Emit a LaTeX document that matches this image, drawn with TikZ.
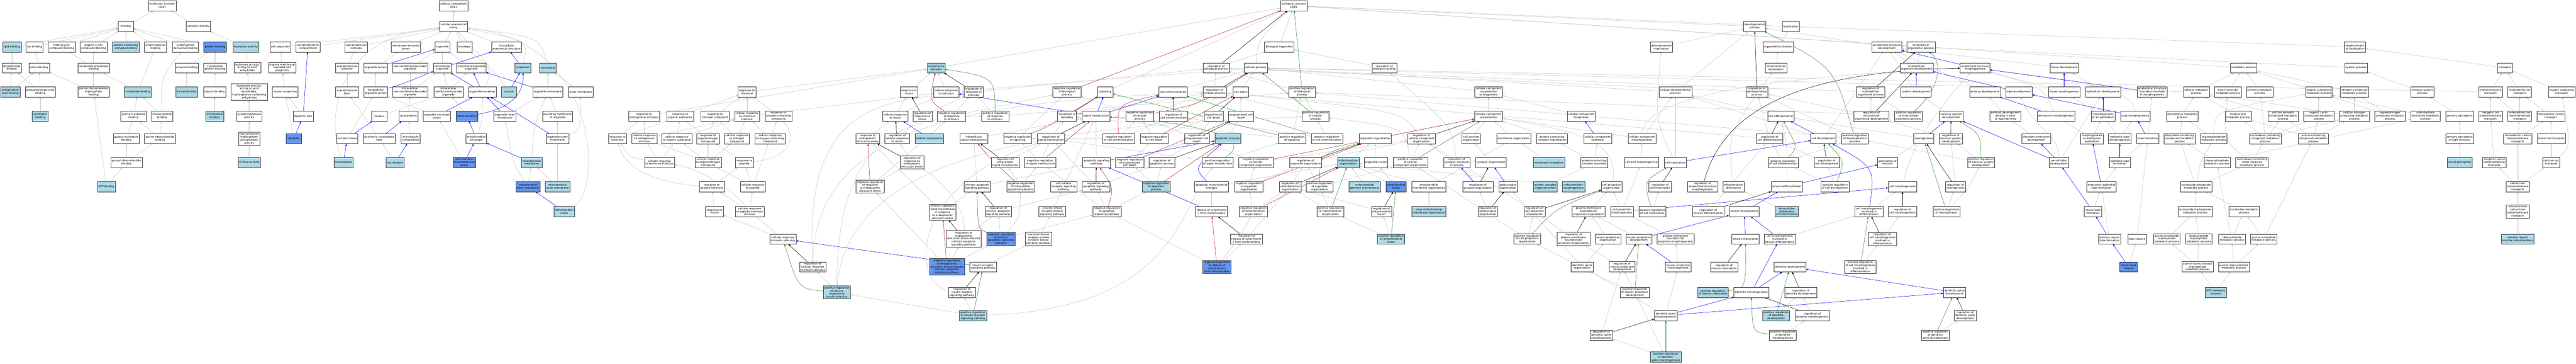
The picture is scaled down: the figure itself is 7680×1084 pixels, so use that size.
\documentclass[tikz,border=0pt]{standalone}
\usepackage{fontspec}
\setmainfont{DejaVu Sans}
\usetikzlibrary{arrows.meta,shadows}
\definecolor{lightblue}{HTML}{ADD8E6}
\definecolor{cornflower}{HTML}{6495ED}
\definecolor{edgegrey}{HTML}{C4C4C4}
\definecolor{firebrick}{HTML}{B22222}
\definecolor{forestgreen}{HTML}{228B22}
\pgfdeclarelayer{back}
\pgfdeclarelayer{edges}
\pgfsetlayers{back,edges,main}
\tikzset{
  term/.style={draw=black!80, line width=0.7pt, fill=white, align=center,
    font=\fontsize{8}{9}\selectfont, inner xsep=3pt, inner ysep=2.5pt,
    minimum width=45pt, minimum height=30pt,
    drop shadow={shadow xshift=1pt, shadow yshift=-1pt, fill=black!45}},
  hit/.style={term, fill=lightblue},
  direct/.style={term, fill=cornflower},
  isa/.style={draw=edgegrey, line width=0.8pt, -{Triangle[length=6pt,width=5pt]}},
  partof/.style={isa, draw=blue},
  reg/.style={isa, draw=black},
  negreg/.style={isa, draw=firebrick},
  posreg/.style={isa, draw=forestgreen}
}
\begin{document}
\begin{tikzpicture}[x=1pt,y=-1pt]
\useasboundingbox (0,0) rectangle (7680,1084);
\begin{pgfonlayer}{back}
\fill[white] (0,0) rectangle (7680,1084);
\end{pgfonlayer}

\node[term] (mf) at (484,17) {molecular\_function\\Opa1};
\node[term] (binding) at (375,79) {binding};
\node[term] (catalytic) at (591,79) {catalytic activity};
\node[hit] (lipidb) at (35,140) {lipid binding};
\node[term] (ionb) at (103,140) {ion binding};
\node[term] (hetcb) at (184,140) {heterocyclic\\compound binding};
\node[term] (orgcb) at (279,140) {organic cyclic\\compound binding};
\node[hit] (pccb) at (375,140) {protein-containing\\complex binding};
\node[term] (smb) at (464,140) {small molecule\\binding};
\node[term] (carbdb) at (553,140) {carbohydrate\\derivative binding};
\node[direct] (proteinb) at (641,140) {protein binding};
\node[hit] (hydrolase) at (733,140) {hydrolase activity};
\node[term] (phospholipidb) at (35,202) {phospholipid\\binding};
\node[term] (anionb) at (117,202) {anion binding};
\node[term] (nucphosb) at (279,202) {nucleoside phosphate\\binding};
\node[term] (enzymeb) at (557,202) {enzyme binding};
\node[term] (cytoskprotb) at (641,202) {cytoskeletal\\protein binding};
\node[term] (hydroanhyd) at (737,202) {hydrolase activity,\\acting on acid\\anhydrides};
\node[hit] (phosacidb) at (31,274) {phosphatidic\\acid binding};
\node[term] (pgb) at (120,274) {phosphatidylglycerol\\binding};
\node[term] (purtpb) at (279,274) {purine ribonucleoside\\triphosphate\\binding};
\node[hit] (nucleotideb) at (411,274) {nucleotide binding};
\node[hit] (kinaseb) at (557,274) {kinase binding};
\node[term] (tubulinb) at (640,274) {tubulin binding};
\node[term] (hydrophos) at (743,274) {hydrolase activity,\\acting on acid\\anhydrides,\\in phosphorus-containing\\anhydrides};
\node[hit] (cardiolipinb) at (120,346) {cardiolipin\\binding};
\node[term] (purnb) at (398,346) {purine nucleotide\\binding};
\node[term] (ribonb) at (483,346) {ribonucleotide\\binding};
\node[hit] (mtb) at (640,346) {microtubule\\binding};
\node[term] (pyrophos) at (743,346) {pyrophosphatase\\activity};
\node[term] (guanylnb) at (377,413) {guanyl nucleotide\\binding};
\node[term] (purribonb) at (477,413) {purine ribonucleotide\\binding};
\node[term] (rntpase) at (743,413) {ribonucleoside\\triphosphate\\phosphatase\\activity};
\node[term] (guanylribonb) at (377,484) {guanyl ribonucleotide\\binding};
\node[hit] (gtpase) at (743,484) {GTPase activity};
\node[hit] (gtpb) at (317,556) {GTP binding};

\node[term] (cc) at (1352,17) {cellular\_component\\Opa1};
\node[term] (cae) at (1352,79) {cellular anatomical\\entity};
\node[term] (cellproj) at (836,140) {cell projection};
\node[term] (somatodend) at (918,140) {somatodendritic\\compartment};
\node[term] (supramolcomplex) at (1062,140) {supramolecular\\complex};
\node[term] (memenclumen) at (1210,140) {membrane-enclosed\\lumen};
\node[term] (organelle) at (1319,140) {organelle};
\node[term] (envelope) at (1385,140) {envelope};
\node[term] (intraanat) at (1510,140) {intracellular\\anatomical structure};
\node[term] (pmbcp) at (841,202) {plasma membrane\\bounded cell\\projection};
\node[term] (supramolpoly) at (1035,202) {supramolecular\\polymer};
\node[term] (organellelumen) at (1120,202) {organelle lumen};
\node[term] (nonmembo) at (1223,202) {non-membrane-bounded\\organelle};
\node[term] (intraorg) at (1319,202) {intracellular\\organelle};
\node[term] (membo) at (1405,202) {membrane-bounded\\organelle};
\node[hit] (cytoplasm) at (1558,202) {cytoplasm};
\node[hit] (membrane) at (1633,202) {membrane};
\node[term] (neuronproj) at (850,274) {neuron projection};
\node[term] (supramolfiber) at (1035,274) {supramolecular\\fiber};
\node[term] (intraorglumen) at (1120,274) {intracellular\\organelle lumen};
\node[term] (intranonmembo) at (1223,274) {intracellular\\non-membrane-bounded\\organelle};
\node[term] (intramembo) at (1337,274) {intracellular\\membrane-bounded\\organelle};
\node[term] (orgenv) at (1438,274) {organelle envelope};
\node[hit] (cytosol) at (1517,274) {cytosol};
\node[term] (orgmem) at (1633,274) {organelle membrane};
\node[term] (outermem) at (1731,274) {outer membrane};
\node[term] (dendtree) at (904,346) {dendritic tree};
\node[term] (nucleus) at (1131,346) {nucleus};
\node[term] (cytoskeleton) at (1217,346) {cytoskeleton};
\node[term] (orgenvlumen) at (1302,346) {organelle envelope\\lumen};
\node[direct] (mitochondrion) at (1392,346) {mitochondrion};
\node[term] (orginnermem) at (1505,346) {organelle inner\\membrane};
\node[term] (boundmem) at (1662,346) {bounding membrane\\of organelle};
\node[direct] (dendrite) at (876,413) {dendrite};
\node[term] (nuclumen) at (1035,413) {nuclear lumen};
\node[term] (polycytofiber) at (1131,413) {polymeric cytoskeletal\\fiber};
\node[term] (mtcytosk) at (1224,413) {microtubule\\cytoskeleton};
\node[term] (mitoenv) at (1420,413) {mitochondrial\\envelope};
\node[term] (orgoutermem) at (1662,413) {organelle outer\\membrane};
\node[hit] (nucleoplasm) at (1024,484) {nucleoplasm};
\node[hit] (microtubule) at (1178,484) {microtubule};
\node[direct] (mitoims) at (1384,484) {mitochondrial\\intermembrane\\space};
\node[hit] (mitomem) at (1585,484) {mitochondrial\\membrane};
\node[direct] (mitoinnermem) at (1574,556) {mitochondrial\\inner membrane};
\node[hit] (mitooutermem) at (1662,556) {mitochondrial\\outer membrane};
\node[hit] (crista) at (1682,630) {mitochondrial\\crista};

\node[term] (bp) at (3857,17) {biological\_process\\Opa1};
\node[term] (devproc) at (5231,79) {developmental\\process};
\node[term] (localization) at (5339,79) {localization};
\node[term] (bioreg) at (3814,140) {biological regulation};
\node[term] (devmaturation) at (4953,140) {developmental\\maturation};
\node[term] (orgloc) at (5302,140) {organelle localization};
\node[term] (asd) at (5625,140) {anatomical structure\\development};
\node[term] (mop) at (5727,140) {multicellular\\organismal process};
\node[term] (estloc) at (7021,140) {establishment\\of localization};
\node[hit] (respstim) at (2791,202) {response to\\stimulus};
\node[term] (regbio) at (3626,202) {regulation of\\biological process};
\node[term] (cellproc) at (3744,202) {cellular process};
\node[term] (regbioqual) at (4127,202) {regulation of\\biological quality};
\node[term] (mitoloc) at (5295,202) {mitochondrion\\localization};
\node[term] (mod) at (5714,202) {multicellular\\organism development};
\node[term] (asm) at (5888,202) {anatomical structure\\morphogenesis};
\node[term] (tissuedev) at (6154,202) {tissue development};
\node[term] (metproc) at (6689,202) {metabolic process};
\node[term] (sysproc) at (7024,202) {system process};
\node[term] (transport) at (7468,202) {transport};

\node[term] (respchem) at (2227,274) {response to\\chemical};
\node[term] (respstress) at (2710,274) {response to\\stress};
\node[term] (cellrespstim) at (2821,274) {cellular response\\to stimulus};
\node[term] (regrespstim) at (2903,274) {regulation of\\response to\\stimulus};
\node[term] (negregbio) at (3181,274) {negative regulation\\of biological\\process};
\node[term] (signaling) at (3295,274) {signaling};
\node[term] (cellcomm) at (3497,274) {cell communication};
\node[term] (regcellproc) at (3621,274) {regulation of\\cellular process};
\node[term] (celldeath) at (3699,274) {cell death};
\node[term] (posregbio) at (3882,274) {positive regulation\\of biological\\process};
\node[term] (cellcomporgbio) at (4438,274) {cellular component\\organization\\or biogenesis};
\node[term] (celldevproc) at (4995,274) {cellular developmental\\process};
\node[term] (regdevproc) at (5238,274) {regulation of\\developmental\\process};
\node[term] (regmop) at (5577,274) {regulation of\\multicellular\\organismal process};
\node[term] (sysdev) at (5712,274) {system development};
\node[term] (embryodev) at (5918,274) {embryo development};
\node[term] (tubedev) at (6019,274) {tube development};
\node[term] (tissuemorph) at (6154,274) {tissue morphogenesis};
\node[term] (epidev) at (6270,274) {epithelium development};
\node[term] (asfim) at (6416,274) {anatomical structure\\formation involved\\in morphogenesis};
\node[term] (cellmet) at (6548,274) {cellular metabolic\\process};
\node[term] (smallmolmet) at (6642,274) {small molecule\\metabolic process};
\node[term] (primmet) at (6737,274) {primary metabolic\\process};
\node[term] (orgsubmet) at (6913,274) {organic substance\\metabolic process};
\node[term] (nitromet) at (7019,274) {nitrogen compound\\metabolic process};
\node[term] (nssproc) at (7222,274) {nervous system\\process};
\node[term] (tmtransport) at (7425,274) {transmembrane\\transport};
\node[term] (monoiontransport) at (7512,274) {monoatomic ion\\transport};
\node[term] (orgsubtransport) at (7637,274) {organic substance\\transport};

\node[term] (respendo) at (1920,346) {response to\\endogenous stimulus};
\node[term] (resporgsub) at (2028,346) {response to\\organic substance};
\node[term] (respnitro) at (2132,346) {response to\\nitrogen compound};
\node[term] (cellrespchem) at (2227,346) {cellular response\\to chemical\\stimulus};
\node[term] (respoxy) at (2321,346) {response to\\oxygen-containing\\compound};
\node[term] (cellrespstress) at (2669,346) {cellular response\\to stress};
\node[term] (regrespstress) at (2750,346) {regulation of\\response to\\stress};
\node[term] (negregrespstim) at (2837,346) {negative regulation\\of response\\to stimulus};
\node[term] (posregrespstim) at (2967,346) {positive regulation\\of response\\to stimulus};
\node[term] (regsignaling) at (3181,346) {regulation of\\signaling};
\node[term] (sigtrans) at (3267,346) {signal transduction};
\node[term] (negregcellproc) at (3398,346) {negative regulation\\of cellular\\process};
\node[term] (regcellcomm) at (3499,346) {regulation of\\cell communication};
\node[term] (regcelldeath) at (3618,346) {regulation of\\cell death};
\node[term] (pcd) at (3700,346) {programmed cell\\death};
\node[term] (posregcellproc) at (3922,346) {positive regulation\\of cellular\\process};
\node[term] (cellcomporg) at (4438,346) {cellular component\\organization};
\node[term] (cellcompbiogen) at (4714,346) {cellular component\\biogenesis};
\node[term] (celldiff) at (5309,346) {cell differentiation};
\node[term] (regmod) at (5579,346) {regulation of\\multicellular\\organismal development};
\node[term] (posregmop) at (5690,346) {positive regulation\\of multicellular\\organismal process};
\node[term] (nsdev) at (5817,346) {nervous system\\development};
\node[term] (embryodevbirth) at (5979,346) {embryo development\\ending in birth\\or egg hatching};
\node[term] (embryomorph) at (6130,346) {embryonic morphogenesis};
\node[term] (morphepi) at (6270,346) {morphogenesis\\of an epithelium};
\node[term] (tubemorph) at (6366,346) {tube morphogenesis};
\node[term] (phosmet) at (6506,346) {phosphorus metabolic\\process};
\node[term] (heterocyclemet) at (6673,346) {heterocycle\\metabolic process};
\node[term] (cellaromatic) at (6807,346) {cellular aromatic\\compound metabolic\\process};
\node[term] (orgcyclicmet) at (6913,346) {organic cyclic\\compound metabolic\\process};
\node[term] (cellnitromet) at (7019,346) {cellular nitrogen\\compound metabolic\\process};
\node[term] (orgnitromet) at (7125,346) {organonitrogen\\compound metabolic\\process};
\node[term] (carbderivmet) at (7231,346) {carbohydrate\\derivative metabolic\\process};
\node[term] (sensoryperc) at (7333,346) {sensory perception};
\node[term] (inorgiontm) at (7425,346) {inorganic ion\\transmembrane\\transport};
\node[term] (monoiontm) at (7512,346) {monoatomic ion\\transmembrane\\transport};
\node[term] (monocationtransport) at (7605,346) {monoatomic cation\\transport};

\node[term] (resphormone) at (1841,413) {response to\\hormone};
\node[term] (cellrespendo) at (1921,413) {cellular response\\to endogenous\\stimulus};
\node[term] (cellresporgsub) at (2018,413) {cellular response\\to organic substance};
\node[term] (resporgnitro) at (2111,413) {response to\\organonitrogen\\compound};
\node[term] (cellrespnitro) at (2197,413) {cellular response\\to nitrogen\\compound};
\node[term] (cellrespoxy) at (2296,413) {cellular response\\to oxygen-containing\\compound};
\node[term] (respER) at (2587,413) {response to\\endoplasmic\\reticulum stress};
\node[term] (regcellrespstress) at (2675,413) {regulation of\\cellular response\\to stress};
\node[hit] (cellsenescence) at (2771,413) {cellular senescence};
\node[term] (intrasig) at (2903,413) {intracellular\\signal transduction};
\node[term] (negregsignaling) at (3034,413) {negative regulation\\of signaling};
\node[term] (regsigtrans) at (3133,413) {regulation of\\signal transduction};
\node[term] (negregcellcomm) at (3335,413) {negative regulation\\of cell communication};
\node[term] (negregcelldeath) at (3441,413) {negative regulation\\of cell death};
\node[term] (regpcd) at (3568,413) {regulation of\\programmed cell\\death};
\node[hit] (apoptotic) at (3660,413) {apoptotic process};
\node[term] (posregsignaling) at (3852,413) {positive regulation\\of signaling};
\node[term] (posregcellcomm) at (3956,413) {positive regulation\\of cell communication};
\node[term] (orgorg) at (4100,413) {organelle organization};
\node[term] (regcellcomporg) at (4238,413) {regulation of\\cellular component\\organization};
\node[term] (celljunction) at (4386,413) {cell junction\\organization};
\node[term] (membraneorg) at (4513,413) {membrane organization};
\node[term] (pccorg) at (4627,413) {protein-containing\\complex organization};
\node[term] (cellcompassembly) at (4763,413) {cellular component\\assembly};
\node[term] (cellcompmorph) at (4895,413) {cellular component\\morphogenesis};
\node[term] (regcelldiff) at (5276,413) {regulation of\\cell differentiation};
\node[term] (celldev) at (5436,413) {cell development};
\node[term] (posregdevproc) at (5530,413) {positive regulation\\of developmental\\process};
\node[term] (neurogenesis) at (5735,413) {neurogenesis};
\node[term] (regnsdev) at (5816,413) {regulation of\\nervous system\\development};
\node[term] (chordate) at (6071,413) {chordate embryonic\\development};
\node[term] (morphembepi) at (6237,413) {morphogenesis\\of embryonic\\epithelium};
\node[term] (epitubemorph) at (6320,413) {epithelial tube\\morphogenesis};
\node[term] (tubeformation) at (6403,413) {tube formation};
\node[term] (phoscontmet) at (6498,413) {phosphate-containing\\compound metabolic\\process};
\node[term] (organophosmet) at (6600,413) {organophosphate\\metabolic process};
\node[term] (nucleobasemet) at (6754,413) {nucleobase-containing\\compound metabolic\\process};
\node[term] (purinecontmet) at (6897,413) {purine-containing\\compound metabolic\\process};
\node[term] (sensorylight) at (7333,413) {sensory perception\\of light stimulus};
\node[term] (monocationtm) at (7506,413) {monoatomic cation\\transmembrane\\transport};
\node[term] (metaliontransport) at (7606,413) {metal ion transport};

\node[term] (cellresphormone) at (1966,484) {cellular response\\to hormone stimulus};
\node[term] (cellresporgnitro) at (2111,484) {cellular response\\to organonitrogen\\compound};
\node[term] (resppeptide) at (2219,484) {response to\\peptide};
\node[term] (regrespER) at (2719,484) {regulation of\\response to\\endoplasmic\\reticulum stress};
\node[term] (regintrasig) at (2997,484) {regulation of\\intracellular\\signal transduction};
\node[term] (negregsigtrans) at (3101,484) {negative regulation\\of signal transduction};
\node[term] (apopsigpath) at (3269,484) {apoptotic signaling\\pathway};
\node[term] (negregpcd) at (3368,484) {negative regulation\\of programmed\\cell death};
\node[term] (regapop) at (3464,484) {regulation of\\apoptotic process};
\node[term] (posregsigtrans) at (3630,484) {positive regulation\\of signal transduction};
\node[term] (negregcellcomporg) at (3744,484) {negative regulation\\of cellular\\component organization};
\node[term] (regorgorg) at (3892,484) {regulation of\\organelle organization};
\node[hit] (mitoorg) at (4020,484) {mitochondrion\\organization};
\node[term] (orgfusion) at (4102,484) {organelle fusion};
\node[term] (posregcellcomporg) at (4205,484) {positive regulation\\of cellular\\component organization};
\node[term] (regsynapse) at (4343,484) {regulation of\\synapse structure\\or activity};
\node[term] (synapseorg) at (4445,484) {synapse organization};
\node[hit] (membranetubulation) at (4618,484) {membrane tubulation};
\node[term] (pccassembly) at (4753,484) {protein-containing\\complex assembly};
\node[term] (cellpartmorph) at (4894,484) {cell part morphogenesis};
\node[term] (cellmaturation) at (4995,484) {cell maturation};
\node[term] (posregcelldiff) at (5316,484) {positive regulation\\of cell differentiation};
\node[term] (regcelldev) at (5446,484) {regulation of\\cell development};
\node[term] (genneurons) at (5627,484) {generation of\\neurons};
\node[term] (posregnsdev) at (5906,484) {positive regulation\\of nervous system\\development};
\node[term] (neuraltubedev) at (6138,484) {neural tube\\development};
\node[term] (epitubeformation) at (6320,484) {epithelial tube\\formation};
\node[term] (ribosephosmet) at (6610,484) {ribose phosphate\\metabolic process};
\node[term] (nucleobasesmallmet) at (6714,484) {nucleobase-containing\\small molecule\\metabolic process};
\node[hit] (visualperc) at (7333,484) {visual perception};
\node[term] (inorgcationtm) at (7436,484) {inorganic cation\\transmembrane\\transport};
\node[term] (calciumiontransport) at (7606,484) {calcium ion\\transport};

\node[term] (resppeptidehorm) at (2122,556) {response to\\peptide hormone};
\node[term] (cellresppeptide) at (2244,556) {cellular response\\to peptide};
\node[term] (negregrespER) at (2594,556) {negative regulation\\of response\\to endoplasmic\\reticulum stress};
\node[term] (intrinsicapop) at (2913,556) {intrinsic apoptotic\\signaling pathway};
\node[term] (negregintrasig) at (3043,556) {negative regulation\\of intracellular\\signal transduction};
\node[term] (cellsurfrec) at (3171,556) {cell surface\\receptor signaling\\pathway};
\node[term] (regapopsig) at (3267,556) {regulation of\\apoptotic signaling\\pathway};
\node[hit] (negregapop) at (3447,556) {negative regulation\\of apoptotic\\process};
\node[term] (apopmito) at (3612,556) {apoptotic mitochondrial\\changes};
\node[term] (negregorgorg) at (3723,556) {negative regulation\\of organelle\\organization};
\node[term] (regmitoorg) at (3846,556) {regulation of\\mitochondrion\\organization};
\node[term] (posregorgorg) at (3934,556) {positive regulation\\of organelle\\organization};
\node[hit] (mitogenome) at (4069,556) {mitochondrial\\genome maintenance};
\node[direct] (mitofusion) at (4162,556) {mitochondrial\\fusion};
\node[term] (mitomemorg) at (4260,556) {mitochondrial\\membrane organization};
\node[term] (regsynorg) at (4406,556) {regulation of\\synapse organization};
\node[term] (postsynorg) at (4496,556) {postsynapse\\organization};
\node[hit] (pcoligo) at (4607,556) {protein complex\\oligomerization};
\node[hit] (mitomorph) at (4691,556) {mitochondrion\\morphogenesis};
\node[term] (cellprojorg) at (4805,556) {cell projection\\organization};
\node[term] (regcellmat) at (4949,556) {regulation of\\cell maturation};
\node[term] (regasm) at (5076,556) {regulation of\\anatomical structure\\morphogenesis};
\node[term] (mitodist) at (5168,556) {mitochondrion\\distribution};
\node[term] (neurondiff) at (5327,556) {neuron differentiation};
\node[term] (posregcelldev) at (5471,556) {positive regulation\\of cell development};
\node[term] (cellmorph) at (5672,556) {cell morphogenesis};
\node[term] (regneurogenesis) at (5830,556) {regulation of\\neurogenesis};
\node[term] (embepitubeform) at (6265,556) {embryonic epithelial\\tube formation};
\node[term] (nucphosmet) at (6547,556) {nucleoside phosphate\\metabolic process};
\node[term] (calciumtm) at (7506,556) {calcium ion\\transmembrane\\transport};

\node[term] (respinsulin) at (2130,630) {response to\\insulin};
\node[term] (cellresppeptidehorm) at (2235,630) {cellular response\\to peptide hormone\\stimulus};
\node[term] (intrinsicER) at (2810,632) {intrinsic apoptotic\\signaling pathway\\in response\\to endoplasmic\\reticulum stress};
\node[term] (regintrinsic) at (2976,630) {regulation of\\intrinsic apoptotic\\signaling pathway};
\node[term] (enzlinked) at (3137,630) {enzyme-linked\\receptor protein\\signaling pathway};
\node[term] (negregapopsig) at (3300,630) {negative regulation\\of apoptotic\\signaling pathway};
\node[term] (releasecytc) at (3612,630) {release of cytochrome\\c from mitochondria};
\node[term] (negregmitoorg) at (3737,630) {negative regulation\\of mitochondrion\\organization};
\node[term] (posregmitoorg) at (3966,630) {positive regulation\\of mitochondrion\\organization};
\node[term] (regmitofusion) at (4119,630) {regulation of\\mitochondrial\\fusion};
\node[hit] (innermitomemorg) at (4260,630) {inner mitochondrial\\membrane organization};
\node[term] (regpostsyn) at (4436,630) {regulation of\\postsynapse\\organization};
\node[term] (regcellprojorg) at (4575,630) {regulation of\\cell projection\\organization};
\node[term] (pmbcporg) at (4736,630) {plasma membrane\\bounded cell\\projection organization};
\node[term] (cellprojmorph) at (4835,630) {cell projection\\morphogenesis};
\node[term] (posregcellmat) at (4926,630) {positive regulation\\of cell maturation};
\node[term] (regneurondiff) at (5093,630) {regulation of\\neuron differentiation};
\node[term] (neurondev) at (5200,630) {neuron development};
\node[hit] (intradistmito) at (5327,630) {intracellular\\distribution\\of mitochondria};
\node[term] (cellmorphdiff) at (5572,630) {cell morphogenesis\\involved in\\differentiation};
\node[term] (regcellmorph) at (5672,630) {regulation of\\cell morphogenesis};
\node[term] (posregneurogenesis) at (5803,630) {positive regulation\\of neurogenesis};
\node[term] (neuraltubeform) at (6240,630) {neural tube\\formation};
\node[term] (nuctpmet) at (6545,630) {nucleoside triphosphate\\metabolic process};
\node[term] (nucleotidemet) at (6690,630) {nucleotide metabolic\\process};
\node[term] (mitocalciumtm) at (7506,630) {mitochondrial\\calcium ion\\transmembrane\\transport};

\node[term] (cellrespinsulin) at (2334,712) {cellular response\\to insulin stimulus};
\node[term] (regERintrinsic) at (2873,712) {regulation of\\endoplasmic\\reticulum stress-induced\\intrinsic apoptotic\\signaling pathway};
\node[direct] (negregintrinsic) at (2984,712) {negative regulation\\of intrinsic\\apoptotic signaling\\pathway};
\node[term] (transmemRTK) at (3096,712) {transmembrane\\receptor protein\\tyrosine kinase\\signaling pathway};
\node[term] (regreleasecytc) at (3716,712) {regulation of\\release of cytochrome\\c from mitochondria};
\node[hit] (posregmitofusion) at (4147,712) {positive regulation\\of mitochondrial\\fusion};
\node[term] (posregcellprojorg) at (4553,712) {positive regulation\\of cell projection\\organization};
\node[term] (regpmbcporg) at (4691,712) {regulation of\\plasma membrane\\bounded cell\\projection organization};
\node[term] (neuronprojorg) at (4794,712) {neuron projection\\organization};
\node[term] (neuronprojdev) at (4886,712) {neuron projection\\development};
\node[term] (pmbcpmorph) at (4995,712) {plasma membrane\\bounded cell\\projection morphogenesis};
\node[term] (neuronmat) at (5204,712) {neuron maturation};
\node[term] (cellmorphneurondiff) at (5306,712) {cell morphogenesis\\involved in\\neuron differentiation};
\node[term] (regcellmorphdiff) at (5612,712) {regulation of\\cell morphogenesis\\involved in\\differentiation};
\node[term] (primneuraltube) at (6289,712) {primary neural\\tube formation};
\node[term] (tubeclosure) at (6371,712) {tube closure};
\node[term] (purinentpmet) at (6460,712) {purine nucleoside\\triphosphate\\metabolic process};
\node[term] (ribontpmet) at (6555,712) {ribonucleoside\\triphosphate\\metabolic process};
\node[term] (ribonucmet) at (6654,712) {ribonucleotide\\metabolic process};
\node[term] (purinenucmet) at (6749,712) {purine nucleotide\\metabolic process};
\node[hit] (calciumimport) at (7506,712) {calcium import\\into the mitochondrion};

\node[term] (regcellrespinsulin) at (2423,795) {regulation of\\cellular response\\to insulin stimulus};
\node[direct] (negregERintrinsic) at (2823,795) {negative regulation\\of endoplasmic\\reticulum stress-induced\\intrinsic apoptotic\\signaling pathway};
\node[term] (insrsp) at (2931,795) {insulin receptor\\signaling pathway};
\node[direct] (negregreleasecytc) at (3628,795) {negative regulation\\of release of\\cytochrome c\\from mitochondria};
\node[term] (dendspineorg) at (4717,795) {dendritic spine\\organization};
\node[term] (regneuronprojdev) at (4836,795) {regulation of\\neuron projection\\development};
\node[term] (neuronprojmorph) at (5003,795) {neuron projection\\morphogenesis};
\node[term] (regneuronmat) at (5140,795) {regulation of\\neuron maturation};
\node[term] (dendritedev) at (5337,795) {dendrite development};
\node[term] (posregcellmorphdiff) at (5546,795) {positive regulation\\of cell morphogenesis\\involved in\\differentiation};
\node[direct] (neuraltubeclosure) at (6346,795) {neural tube\\closure};
\node[term] (purineribontpmet) at (6552,795) {purine ribonucleoside\\triphosphate\\metabolic process};
\node[term] (purineribonucmet) at (6660,795) {purine ribonucleotide\\metabolic process};

\node[hit] (posregcellrespinsulin) at (2495,871) {positive regulation\\of cellular\\response to\\insulin stimulus};
\node[term] (reginsr) at (2868,871) {regulation of\\insulin receptor\\signaling pathway};
\node[term] (posregneuronprojdev) at (4874,871) {positive regulation\\of neuron projection\\development};
\node[hit] (posregneuronmat) at (5107,871) {positive regulation\\of neuron maturation};
\node[term] (dendritemorph) at (5221,871) {dendrite morphogenesis};
\node[term] (regdendritedev) at (5369,871) {regulation of\\dendrite development};
\node[term] (dendspinedev) at (5827,871) {dendritic spine\\development};
\node[hit] (gtpmet) at (6606,871) {GTP metabolic\\process};

\node[hit] (posreginsr) at (2901,940) {positive regulation\\of insulin receptor\\signaling pathway};
\node[term] (dendspinemorph) at (4966,940) {dendritic spine\\morphogenesis};
\node[hit] (posregdendritedev) at (5295,940) {positive regulation\\of dendrite\\development};
\node[term] (regdendritemorph) at (5403,940) {regulation of\\dendrite morphogenesis};
\node[term] (regdendspinedev) at (5859,940) {regulation of\\dendritic spine\\development};
\node[term] (regdendspinemorph) at (4774,999) {regulation of\\dendritic spine\\morphogenesis};
\node[term] (posregdendritemorph) at (5315,999) {positive regulation\\of dendrite\\morphogenesis};
\node[term] (posregdendspinedev) at (5770,999) {positive regulation\\of dendritic\\spine development};
\node[hit] (posregdendspinemorph) at (4966,1064) {positive regulation\\of dendritic\\spine morphogenesis};

\begin{pgfonlayer}{edges}
\draw[isa] (binding) -- (mf); \draw[isa] (catalytic) -- (mf);
\draw[isa] (lipidb) -- (binding); \draw[isa] (ionb) -- (binding);
\draw[isa] (hetcb) -- (binding); \draw[isa] (orgcb) -- (binding);
\draw[isa] (pccb) -- (binding); \draw[isa] (smb) -- (binding);
\draw[isa] (carbdb) -- (binding); \draw[isa] (proteinb) -- (binding);
\draw[isa] (hydrolase) -- (catalytic); \draw[isa] (phospholipidb) -- (lipidb);
\draw[isa] (anionb) -- (ionb); \draw[isa] (nucphosb) -- (hetcb);
\draw[isa] (nucphosb) -- (orgcb); \draw[isa] (enzymeb) -- (proteinb);
\draw[isa] (cytoskprotb) -- (proteinb); \draw[isa] (hydroanhyd) -- (hydrolase);
\draw[isa] (phosacidb) -- (phospholipidb); \draw[isa] (phosacidb) -- (anionb);
\draw[isa] (pgb) -- (phospholipidb); \draw[isa] (pgb) -- (anionb);
\draw[isa] (purtpb) -- (anionb); \draw[isa] (purtpb) -- (nucphosb);
\draw[isa] (nucleotideb) -- (nucphosb); \draw[isa] (nucleotideb) -- (smb);
\draw[isa] (kinaseb) -- (enzymeb); \draw[isa] (tubulinb) -- (cytoskprotb);
\draw[isa] (hydrophos) -- (hydroanhyd); \draw[isa] (cardiolipinb) -- (pgb);
\draw[isa] (purnb) -- (nucleotideb); \draw[isa] (ribonb) -- (nucleotideb);
\draw[isa] (ribonb) .. controls (480,230) .. (carbdb); \draw[isa] (mtb) -- (tubulinb);
\draw[isa] (pyrophos) -- (hydrophos); \draw[isa] (guanylnb) -- (purnb);
\draw[isa] (purribonb) -- (purnb); \draw[isa] (purribonb) -- (ribonb);
\draw[isa] (rntpase) -- (pyrophos); \draw[isa] (guanylribonb) -- (guanylnb);
\draw[isa] (guanylribonb) -- (purribonb); \draw[isa] (gtpase) -- (rntpase);
\draw[isa] (gtpb) -- (purtpb); \draw[isa] (gtpb) -- (guanylribonb);

\draw[isa] (cae) -- (cc); \draw[isa] (cellproj) -- (cae);
\draw[isa] (somatodend) -- (cae); \draw[isa] (supramolcomplex) -- (cae);
\draw[isa] (memenclumen) -- (cae); \draw[isa] (organelle) -- (cae);
\draw[isa] (envelope) -- (cae); \draw[isa] (intraanat) -- (cae);
\draw[isa] (cytoplasm) .. controls (1575,120) .. (cae);
\draw[isa] (membrane) .. controls (1610,110) .. (cae);
\draw[isa] (cytosol) .. controls (1480,220) .. (cae);
\draw[isa] (crista) .. controls (1795,570) and (1790,120) .. (cae);
\draw[isa] (nucleoplasm) .. controls (978,380) and (978,110) .. (cae);
\draw[isa] (pmbcp) -- (cellproj); \draw[isa] (neuronproj) -- (pmbcp);
\draw[isa] (dendtree) -- (neuronproj); \draw[isa] (dendrite) -- (neuronproj);
\draw[isa] (supramolpoly) -- (supramolcomplex); \draw[isa] (supramolfiber) -- (supramolpoly);
\draw[isa] (organellelumen) -- (memenclumen); \draw[isa] (nonmembo) -- (organelle);
\draw[isa] (intraorglumen) -- (organellelumen); \draw[isa] (intranonmembo) -- (nonmembo);
\draw[isa] (intranonmembo) -- (intraorg); \draw[isa] (nucleus) -- (intramembo);
\draw[isa] (cytoskeleton) -- (intranonmembo); \draw[isa] (orgenvlumen) -- (intraorglumen);
\draw[isa] (nuclumen) -- (intraorglumen); \draw[isa] (polycytofiber) -- (supramolfiber);
\draw[isa] (mtcytosk) -- (cytoskeleton); \draw[isa] (microtubule) -- (polycytofiber);
\draw[isa] (intraorg) -- (organelle); \draw[isa] (membo) -- (organelle);
\draw[isa] (intramembo) -- (intraorg); \draw[isa] (intramembo) -- (membo);
\draw[isa] (orgenv) .. controls (1470,210) .. (envelope); \draw[isa] (orgmem) -- (membrane);
\draw[isa] (outermem) -- (membrane); \draw[isa] (mitochondrion) -- (intramembo);
\draw[isa] (orginnermem) -- (orgmem); \draw[isa] (boundmem) -- (orgmem);
\draw[isa] (mitoenv) .. controls (1440,350) .. (orgenv); \draw[isa] (orgoutermem) -- (boundmem);
\draw[isa] (orgoutermem) .. controls (1730,390) .. (outermem); \draw[isa] (mitoims) -- (orgenvlumen);
\draw[isa] (mitomem) .. controls (1590,380) .. (orgmem); \draw[isa] (mitoinnermem) -- (mitomem);
\draw[isa] (mitoinnermem) .. controls (1530,490) .. (orginnermem); \draw[isa] (mitooutermem) -- (mitomem);
\draw[isa] (mitooutermem) -- (orgoutermem);
\draw[partof] (dendtree) -- (somatodend); \draw[partof] (dendrite) -- (dendtree);
\draw[partof] (organellelumen) -- (organelle); \draw[partof] (intraorglumen) .. controls (1200,250) .. (intraorg);
\draw[partof] (nuclumen) -- (nucleus); \draw[partof] (polycytofiber) -- (cytoskeleton);
\draw[partof] (nucleoplasm) -- (nuclumen); \draw[partof] (microtubule) -- (mtcytosk);
\draw[partof] (intraorg) -- (intraanat); \draw[partof] (cytoplasm) -- (intraanat);
\draw[partof] (orgenv) -- (intraorg); \draw[partof] (orgenv) -- (membo);
\draw[partof] (cytosol) -- (cytoplasm); \draw[partof] (orgmem) -- (membo);
\draw[partof] (orgenvlumen) -- (orgenv); \draw[partof] (mitochondrion) .. controls (1545,320) and (1562,260) .. (cytoplasm);
\draw[partof] (orginnermem) -- (orgenv); \draw[partof] (mitoenv) -- (mitochondrion);
\draw[partof] (orgoutermem) -- (orgenv); \draw[partof] (mitoims) -- (mitoenv);
\draw[partof] (mitomem) -- (mitoenv); \draw[partof] (crista) -- (mitoinnermem);

\draw[isa] (respstim) -- (bp); \draw[isa] (respendo) -- (respstim);
\draw[isa] (respchem) -- (respstim); \draw[isa] (resporgsub) -- (respchem);
\draw[isa] (respnitro) -- (respchem); \draw[isa] (cellrespchem) -- (respchem);
\draw[isa] (respoxy) -- (respchem); \draw[isa] (cellrespchem) -- (cellrespstim);
\draw[isa] (resphormone) -- (respendo); \draw[isa] (resphormone) -- (resporgsub);
\draw[isa] (cellrespendo) -- (respendo); \draw[isa] (cellrespendo) -- (cellrespchem);
\draw[isa] (cellresporgsub) -- (resporgsub); \draw[isa] (cellresporgsub) -- (cellrespchem);
\draw[isa] (resporgnitro) -- (respnitro); \draw[isa] (resporgnitro) -- (resporgsub);
\draw[isa] (cellrespnitro) -- (respnitro); \draw[isa] (cellrespnitro) -- (cellrespchem);
\draw[isa] (cellrespoxy) -- (cellrespchem); \draw[isa] (cellrespoxy) -- (respoxy);
\draw[isa] (cellresphormone) -- (cellrespendo); \draw[isa] (cellresphormone) -- (cellresporgsub);
\draw[isa] (cellresphormone) .. controls (1880,470) .. (resphormone);
\draw[isa] (cellresporgnitro) -- (cellresporgsub); \draw[isa] (cellresporgnitro) -- (resporgnitro);
\draw[isa] (cellresporgnitro) -- (cellrespnitro); \draw[isa] (cellresporgnitro) -- (cellrespendo);
\draw[isa] (resppeptide) -- (resporgnitro); \draw[isa] (resppeptide) .. controls (2370,470) and (2370,400) .. (respoxy);
\draw[isa] (resppeptidehorm) -- (resppeptide); \draw[isa] (resppeptidehorm) .. controls (1950,545) and (1860,500) .. (resphormone);
\draw[isa] (cellresppeptide) -- (resppeptide); \draw[isa] (cellresppeptide) -- (cellresporgnitro);
\draw[isa] (cellresppeptide) -- (cellrespoxy); \draw[isa] (respinsulin) -- (resppeptidehorm);
\draw[isa] (cellresppeptidehorm) -- (resppeptidehorm); \draw[isa] (cellresppeptidehorm) -- (cellresppeptide);
\draw[isa] (cellresppeptidehorm) .. controls (2180,560) and (2080,500) .. (cellresphormone);
\draw[isa] (cellrespinsulin) -- (respinsulin); \draw[isa] (cellrespinsulin) -- (cellresppeptidehorm);
\draw[isa] (posregcellrespinsulin) -- (regcellrespinsulin);
\draw[isa] (regcellrespinsulin) .. controls (2400,330) and (2600,300) .. (regrespstim);
\draw[isa] (regcellrespinsulin) .. controls (2432,340) and (3000,300) .. (regcellproc);
\draw[isa] (posregcellrespinsulin) .. controls (2495,400) and (2700,350) .. (posregrespstim);
\draw[isa] (posregcellrespinsulin) .. controls (2528,390) and (3400,370) .. (posregcellproc);
\draw[isa] (respstress) -- (respstim); \draw[isa] (cellrespstim) -- (respstim);
\draw[isa] (cellrespstim) -- (cellproc); \draw[isa] (regrespstim) -- (regbio);
\draw[isa] (cellrespstress) -- (respstress); \draw[isa] (cellrespstress) -- (cellrespstim);
\draw[isa] (regrespstress) -- (regrespstim); \draw[isa] (negregrespstim) -- (regrespstim);
\draw[isa] (negregrespstim) -- (negregbio); \draw[isa] (posregrespstim) -- (regrespstim);
\draw[isa] (posregrespstim) -- (posregbio); \draw[isa] (respER) -- (cellrespstress);
\draw[isa] (regcellrespstress) -- (regrespstress); \draw[isa] (regrespER) -- (regcellrespstress);
\draw[isa] (intrasig) -- (sigtrans); \draw[isa] (negregsignaling) -- (regsignaling);
\draw[isa] (negregsignaling) -- (negregbio); \draw[isa] (regsigtrans) -- (regsignaling);
\draw[isa] (negregrespER) -- (regrespER); \draw[isa] (negregrespER) -- (negregrespstim);
\draw[isa] (regintrasig) -- (regsigtrans); \draw[isa] (negregsigtrans) -- (negregsignaling);
\draw[isa] (negregsigtrans) -- (regsigtrans); \draw[isa] (intrinsicapop) -- (intrasig);
\draw[isa] (intrinsicapop) -- (apopsigpath); \draw[isa] (negregintrasig) -- (regintrasig);
\draw[isa] (negregintrasig) -- (negregsigtrans); \draw[isa] (cellsurfrec) -- (sigtrans);
\draw[isa] (intrinsicER) -- (intrinsicapop); \draw[isa] (intrinsicER) -- (respER);
\draw[isa] (regintrinsic) -- (regapopsig); \draw[isa] (enzlinked) -- (cellsurfrec);
\draw[isa] (regERintrinsic) .. controls (2880,600) and (2780,520) .. (regrespER); \draw[isa] (regERintrinsic) -- (regintrinsic);
\draw[isa] (negregintrinsic) -- (regintrinsic); \draw[isa] (negregintrinsic) .. controls (3040,650) .. (negregintrasig);
\draw[isa] (negregintrinsic) -- (negregapopsig); \draw[isa] (transmemRTK) -- (enzlinked);
\draw[isa] (negregERintrinsic) -- (regERintrinsic); \draw[isa] (negregERintrinsic) -- (negregrespER);
\draw[isa] (negregERintrinsic) -- (negregintrinsic); \draw[isa] (insrsp) -- (transmemRTK);
\draw[isa] (reginsr) .. controls (2720,850) and (2700,560) .. (regsigtrans);
\draw[isa] (posreginsr) -- (reginsr); \draw[isa] (posreginsr) -- (posregcellrespinsulin);
\draw[isa] (posreginsr) .. controls (3520,920) and (3520,600) .. (posregsigtrans);
\draw[isa] (regsignaling) -- (regcellproc);
\draw[isa] (bioreg) -- (bp); \draw[isa] (cellproc) .. controls (3750,120) .. (bp);
\draw[isa] (signaling) -- (bp); \draw[isa] (regbio) -- (bioreg);
\draw[isa] (cellcomm) -- (cellproc); \draw[isa] (regcellproc) -- (regbio);
\draw[isa] (celldeath) -- (cellproc); \draw[isa] (negregcellproc) -- (negregbio);
\draw[isa] (negregcellproc) -- (regcellproc); \draw[isa] (regcellcomm) -- (regcellproc);
\draw[isa] (regcelldeath) -- (regcellproc); \draw[isa] (pcd) -- (celldeath);
\draw[isa] (negregcellcomm) -- (regcellcomm); \draw[isa] (negregcellcomm) -- (negregcellproc);
\draw[isa] (negregcellcomm) -- (negregsignaling); \draw[isa] (negregcelldeath) -- (regcelldeath);
\draw[isa] (negregcelldeath) -- (negregcellproc); \draw[isa] (regpcd) -- (regcelldeath);
\draw[isa] (apoptotic) -- (pcd); \draw[isa] (posregsignaling) -- (regsignaling);
\draw[isa] (posregsignaling) -- (posregbio); \draw[isa] (apopsigpath) -- (sigtrans);
\draw[isa] (negregpcd) -- (regpcd); \draw[isa] (negregpcd) -- (negregcelldeath);
\draw[isa] (regapop) -- (regpcd); \draw[isa] (posregsigtrans) -- (regsigtrans);
\draw[isa] (posregsigtrans) -- (posregsignaling); \draw[isa] (negregcellcomporg) -- (regcellcomporg);
\draw[isa] (negregcellcomporg) -- (negregcellproc); \draw[isa] (regapopsig) -- (regapop);
\draw[isa] (regapopsig) -- (regsigtrans); \draw[isa] (negregapop) -- (regapop);
\draw[isa] (negregapop) -- (negregpcd); \draw[isa] (apopmito) -- (mitoorg);
\draw[isa] (negregorgorg) -- (regorgorg); \draw[isa] (negregorgorg) -- (negregcellcomporg);
\draw[isa] (regmitoorg) -- (regorgorg); \draw[isa] (negregapopsig) -- (regapopsig);
\draw[isa] (negregapopsig) -- (negregapop); \draw[isa] (negregapopsig) -- (negregsigtrans);
\draw[isa] (releasecytc) -- (apopmito); \draw[isa] (negregmitoorg) -- (negregorgorg);
\draw[isa] (negregmitoorg) -- (regmitoorg); \draw[isa] (regreleasecytc) -- (regmitoorg);
\draw[isa] (negregreleasecytc) -- (regreleasecytc); \draw[isa] (negregreleasecytc) -- (negregapopsig);
\draw[isa] (negregreleasecytc) .. controls (3700,700) .. (negregmitoorg);
\draw[isa] (regbioqual) -- (bioreg); \draw[isa] (posregbio) -- (regbio);
\draw[isa] (cellcomporgbio) -- (cellproc); \draw[isa] (posregcellproc) -- (posregbio);
\draw[isa] (posregcellproc) -- (regcellproc); \draw[isa] (cellcomporg) -- (cellcomporgbio);
\draw[isa] (posregcellcomm) -- (posregcellproc); \draw[isa] (posregcellcomm) -- (regcellcomm);
\draw[isa] (orgorg) -- (cellcomporg); \draw[isa] (regcellcomporg) .. controls (4180,330) .. (regcellproc);
\draw[isa] (celljunction) -- (cellcomporg); \draw[isa] (membraneorg) -- (cellcomporg);
\draw[isa] (mitoorg) -- (orgorg); \draw[isa] (orgfusion) -- (orgorg);
\draw[isa] (regorgorg) -- (regcellcomporg); \draw[isa] (posregcellcomporg) -- (regcellcomporg);
\draw[isa] (posregcellcomporg) .. controls (4190,380) .. (posregcellproc);
\draw[isa] (regsynapse) .. controls (4330,380) .. (regbioqual);
\draw[isa] (synapseorg) -- (celljunction); \draw[isa] (posregorgorg) -- (regorgorg);
\draw[isa] (posregorgorg) -- (posregcellcomporg); \draw[isa] (mitogenome) -- (mitoorg);
\draw[isa] (mitofusion) -- (mitoorg); \draw[isa] (mitofusion) -- (orgfusion);
\draw[isa] (mitomemorg) -- (mitoorg); \draw[isa] (mitomemorg) -- (membraneorg);
\draw[isa] (regsynorg) .. controls (4330,480) .. (regcellcomporg); \draw[isa] (posregmitoorg) -- (regmitoorg);
\draw[isa] (posregmitoorg) -- (posregorgorg); \draw[isa] (regmitofusion) -- (regmitoorg);
\draw[isa] (innermitomemorg) -- (mitomemorg); \draw[isa] (regpostsyn) -- (regsynorg);
\draw[isa] (posregmitofusion) -- (regmitofusion); \draw[isa] (posregmitofusion) -- (posregmitoorg);
\draw[isa] (devmaturation) -- (devproc); \draw[isa] (celldevproc) -- (devproc);
\draw[isa] (celldevproc) -- (cellproc); \draw[isa] (cellcompbiogen) -- (cellcomporgbio);
\draw[isa] (pccorg) -- (cellcomporg); \draw[isa] (cellcompmorph) -- (celldevproc);
\draw[isa] (cellcompmorph) .. controls (4900,300) and (5200,230) .. (asm); \draw[isa] (cellcompmorph) -- (cellcomporg);
\draw[isa] (membranetubulation) -- (membraneorg); \draw[isa] (pccassembly) -- (pccorg);
\draw[isa] (pccassembly) -- (cellcompassembly); \draw[isa] (cellpartmorph) -- (cellcompmorph);
\draw[isa] (cellmaturation) -- (celldevproc); \draw[isa] (cellmaturation) .. controls (4935,360) .. (devmaturation);
\draw[isa] (pcoligo) -- (pccassembly); \draw[isa] (mitomorph) -- (mitoorg);
\draw[isa] (cellprojorg) .. controls (4830,420) and (4700,390) .. (cellcomporg);
\draw[isa] (regcellprojorg) -- (regcellcomporg); \draw[isa] (pmbcporg) -- (cellprojorg);
\draw[isa] (cellprojmorph) -- (cellprojorg); \draw[isa] (cellprojmorph) -- (cellpartmorph);
\draw[isa] (posregcellmat) -- (regcellmat); \draw[isa] (posregcellprojorg) -- (regcellprojorg);
\draw[isa] (posregcellprojorg) -- (posregcellcomporg); \draw[isa] (regpmbcporg) -- (regcellprojorg);
\draw[isa] (neuronprojorg) -- (pmbcporg); \draw[isa] (neuronprojdev) -- (pmbcporg);
\draw[isa] (pmbcpmorph) -- (cellprojmorph); \draw[isa] (dendspineorg) -- (neuronprojorg);
\draw[isa] (dendspineorg) -- (postsynorg); \draw[isa] (regneuronprojdev) -- (regpmbcporg);
\draw[isa] (neuronprojmorph) -- (pmbcpmorph); \draw[isa] (posregneuronprojdev) -- (regneuronprojdev);
\draw[isa] (posregneuronprojdev) .. controls (4780,830) .. (posregcellprojorg);
\draw[isa] (dendspinemorph) -- (neuronprojmorph); \draw[isa] (dendspinemorph) -- (dendspineorg);
\draw[isa] (regdendspinemorph) -- (regneuronprojdev); \draw[isa] (posregdendspinemorph) -- (regdendspinemorph);
\draw[isa] (posregdendspinemorph) -- (posregneuronprojdev);
\draw[isa] (devproc) -- (bp); \draw[isa] (localization) -- (bp);
\draw[isa] (orgloc) -- (localization); \draw[isa] (mitoloc) -- (orgloc);
\draw[isa] (asd) -- (devproc); \draw[isa] (mop) -- (bp);
\draw[isa] (mod) -- (asd); \draw[isa] (mod) -- (mop);
\draw[isa] (regmop) -- (regbio); \draw[isa] (sysdev) -- (asd);
\draw[isa] (regdevproc) -- (regbio); \draw[isa] (celldiff) -- (celldevproc);
\draw[isa] (regmod) -- (regmop); \draw[isa] (regmod) -- (regdevproc);
\draw[isa] (posregmop) -- (regmop); \draw[isa] (posregmop) -- (posregbio);
\draw[isa] (regcelldiff) -- (regdevproc); \draw[isa] (regcelldiff) -- (regcellproc);
\draw[isa] (celldev) -- (asd); \draw[isa] (celldev) -- (celldevproc);
\draw[isa] (posregdevproc) -- (regdevproc); \draw[isa] (posregdevproc) -- (posregbio);
\draw[isa] (neurogenesis) -- (celldiff); \draw[isa] (posregcelldiff) -- (regcelldiff);
\draw[isa] (posregcelldiff) -- (posregdevproc); \draw[isa] (regcelldev) -- (regcelldiff);
\draw[isa] (genneurons) -- (neurogenesis); \draw[isa] (mitodist) .. controls (5150,400) .. (mitoloc);
\draw[isa] (neurondiff) .. controls (5330,450) .. (celldiff); \draw[isa] (posregcelldev) -- (regcelldev);
\draw[isa] (posregcelldev) -- (posregcelldiff); \draw[isa] (cellmorph) .. controls (5700,420) and (5800,300) .. (asm);
\draw[isa] (regneurondiff) -- (regcelldiff); \draw[isa] (intradistmito) -- (mitodist);
\draw[isa] (cellmorphdiff) -- (cellmorph); \draw[isa] (cellmorphneurondiff) -- (cellmorphdiff);
\draw[isa] (regcellmorphdiff) -- (regcellmorph); \draw[isa] (posregcellmorphdiff) -- (regcellmorphdiff);
\draw[isa] (posregdendritedev) -- (regdendritedev); \draw[isa] (regdendritemorph) -- (regdendritedev);
\draw[isa] (posregdendritemorph) -- (regdendritemorph);
\draw[isa] (tissuedev) -- (asd); \draw[isa] (embryodev) -- (asd);
\draw[isa] (tissuemorph) -- (asm); \draw[isa] (epidev) -- (tissuedev);
\draw[isa] (nsdev) -- (sysdev); \draw[isa] (embryodevbirth) -- (embryodev);
\draw[isa] (chordate) -- (embryodevbirth); \draw[isa] (embryomorph) .. controls (6090,260) .. (asm);
\draw[isa] (morphepi) -- (tissuemorph); \draw[isa] (tubemorph) .. controls (6360,250) and (6100,230) .. (asm);
\draw[isa] (regnsdev) -- (regmod); \draw[isa] (posregnsdev) -- (regnsdev);
\draw[isa] (posregnsdev) -- (posregdevproc); \draw[isa] (neuraltubedev) .. controls (6140,400) and (6060,380) .. (tubedev);
\draw[isa] (neuraltubedev) -- (epidev); \draw[isa] (morphembepi) -- (morphepi);
\draw[isa] (morphembepi) -- (embryomorph); \draw[isa] (epitubemorph) -- (morphepi);
\draw[isa] (epitubemorph) -- (tubemorph); \draw[isa] (tubeformation) -- (asfim);
\draw[isa] (epitubeformation) -- (tubeformation); \draw[isa] (regneurogenesis) -- (regnsdev);
\draw[isa] (embepitubeform) -- (epitubeformation); \draw[isa] (posregneurogenesis) -- (regneurogenesis);
\draw[isa] (posregneurogenesis) .. controls (5870,560) .. (posregnsdev); \draw[isa] (neuraltubeform) -- (embepitubeform);
\draw[isa] (primneuraltube) -- (embepitubeform); \draw[isa] (tubeclosure) -- (tubeformation);
\draw[isa] (neuraltubeclosure) -- (tubeclosure); \draw[isa] (posregdendspinedev) -- (regdendspinedev);
\draw[isa] (estloc) -- (localization); \draw[isa] (metproc) -- (bp);
\draw[isa] (sysproc) -- (mop); \draw[isa] (cellmet) -- (metproc);
\draw[isa] (cellmet) -- (cellproc); \draw[isa] (smallmolmet) -- (metproc);
\draw[isa] (primmet) -- (metproc); \draw[isa] (orgsubmet) -- (metproc);
\draw[isa] (nitromet) -- (metproc); \draw[isa] (phosmet) -- (cellmet);
\draw[isa] (heterocyclemet) -- (cellmet); \draw[isa] (cellaromatic) -- (cellmet);
\draw[isa] (orgcyclicmet) -- (orgsubmet); \draw[isa] (cellnitromet) -- (nitromet);
\draw[isa] (cellnitromet) -- (cellmet); \draw[isa] (phoscontmet) -- (phosmet);
\draw[isa] (organophosmet) -- (phosmet); \draw[isa] (organophosmet) .. controls (6600,330) .. (orgsubmet);
\draw[isa] (nucleobasemet) -- (heterocyclemet); \draw[isa] (nucleobasemet) -- (cellaromatic);
\draw[isa] (nucleobasemet) -- (orgcyclicmet); \draw[isa] (nucleobasemet) -- (primmet);
\draw[isa] (nucleobasemet) -- (cellnitromet); \draw[isa] (purinecontmet) -- (heterocyclemet);
\draw[isa] (purinecontmet) -- (orgcyclicmet); \draw[isa] (purinecontmet) -- (cellaromatic);
\draw[isa] (purinecontmet) -- (cellnitromet); \draw[isa] (ribosephosmet) -- (phoscontmet);
\draw[isa] (ribosephosmet) -- (carbderivmet); \draw[isa] (nucleobasesmallmet) -- (nucleobasemet);
\draw[isa] (nucleobasesmallmet) .. controls (6630,420) .. (smallmolmet); \draw[isa] (nucphosmet) -- (phoscontmet);
\draw[isa] (nucphosmet) .. controls (6560,480) .. (organophosmet); \draw[isa] (nucphosmet) -- (nucleobasesmallmet);
\draw[isa] (nuctpmet) -- (nucphosmet); \draw[isa] (nucleotidemet) -- (nucphosmet);
\draw[isa] (purinentpmet) -- (nuctpmet); \draw[isa] (ribontpmet) -- (nuctpmet);
\draw[isa] (ribonucmet) -- (nucleotidemet); \draw[isa] (ribonucmet) .. controls (6625,580) .. (ribosephosmet);
\draw[isa] (purinenucmet) -- (nucleotidemet); \draw[isa] (purinenucmet) -- (purinecontmet);
\draw[isa] (purineribontpmet) -- (purinentpmet); \draw[isa] (purineribontpmet) -- (ribontpmet);
\draw[isa] (purineribonucmet) -- (ribonucmet); \draw[isa] (purineribonucmet) -- (purinenucmet);
\draw[isa] (gtpmet) -- (purineribontpmet); \draw[isa] (gtpmet) -- (purineribonucmet);
\draw[isa] (transport) -- (estloc); \draw[isa] (nssproc) -- (sysproc);
\draw[isa] (tmtransport) -- (transport); \draw[isa] (monoiontransport) -- (transport);
\draw[isa] (orgsubtransport) -- (transport); \draw[isa] (orgnitromet) -- (nitromet);
\draw[isa] (orgnitromet) -- (orgsubmet); \draw[isa] (carbderivmet) -- (orgsubmet);
\draw[isa] (sensoryperc) -- (nssproc); \draw[isa] (sensorylight) -- (sensoryperc);
\draw[isa] (visualperc) -- (sensorylight); \draw[isa] (inorgiontm) -- (tmtransport);
\draw[isa] (monoiontm) -- (tmtransport); \draw[isa] (monoiontm) -- (monoiontransport);
\draw[isa] (monocationtransport) -- (monoiontransport); \draw[isa] (monocationtm) -- (monoiontm);
\draw[isa] (monocationtm) -- (monocationtransport); \draw[isa] (metaliontransport) -- (monocationtransport);
\draw[isa] (inorgcationtm) -- (inorgiontm); \draw[isa] (calciumiontransport) -- (metaliontransport);
\draw[isa] (calciumiontransport) .. controls (7665,440) .. (orgsubtransport); \draw[isa] (calciumtm) -- (inorgcationtm);
\draw[isa] (calciumtm) -- (monocationtm); \draw[isa] (calciumtm) -- (calciumiontransport);
\draw[isa] (mitocalciumtm) -- (calciumtm); \draw[isa] (calciumimport) -- (mitocalciumtm);
\draw[isa] (tmtransport) -- (cellproc);

\draw[partof] (sigtrans) -- (cellrespstim); \draw[partof] (cellsenescence) -- (cellrespstress);
\draw[partof] (insrsp) -- (cellrespinsulin); \draw[partof] (sigtrans) -- (signaling);
\draw[partof] (sigtrans) -- (cellcomm); \draw[partof] (apopsigpath) -- (apoptotic);
\draw[partof] (apopmito) .. controls (3560,500) .. (apoptotic); \draw[partof] (releasecytc) -- (apopsigpath);
\draw[partof] (regsynorg) -- (regsynapse); \draw[partof] (postsynorg) -- (synapseorg);
\draw[partof] (cellcompassembly) -- (cellcompbiogen); \draw[partof] (cellmaturation) -- (celldev);
\draw[partof] (cellprojmorph) -- (cellmorph); \draw[partof] (neuronprojdev) -- (neurondev);
\draw[partof] (neuronprojmorph) -- (neuronprojdev); \draw[partof] (dendspinemorph) -- (dendspinedev);
\draw[partof] (dendspinemorph) -- (dendritemorph); \draw[partof] (sysdev) -- (mod);
\draw[partof] (celldev) -- (celldiff); \draw[partof] (neurogenesis) -- (nsdev);
\draw[partof] (neurondiff) -- (genneurons); \draw[partof] (cellmorphdiff) .. controls (5590,500) .. (celldev);
\draw[partof] (neurondev) -- (neurondiff); \draw[partof] (neuronmat) -- (neurondev);
\draw[partof] (cellmorphneurondiff) -- (neurondev); \draw[partof] (dendritemorph) -- (dendritedev);
\draw[partof] (dendritemorph) -- (cellmorphneurondiff); \draw[partof] (dendspinedev) -- (dendritedev);
\draw[partof] (asm) -- (asd); \draw[partof] (tubedev) -- (mod);
\draw[partof] (tissuemorph) -- (tissuedev); \draw[partof] (asfim) -- (asm);
\draw[partof] (embryomorph) -- (embryodev); \draw[partof] (morphepi) -- (epidev);
\draw[partof] (tubemorph) -- (tubedev); \draw[partof] (neuraltubedev) -- (chordate);
\draw[partof] (neuraltubedev) -- (nsdev); \draw[partof] (tubeformation) -- (tubemorph);
\draw[partof] (epitubeformation) -- (epitubemorph); \draw[partof] (embepitubeform) -- (morphembepi);
\draw[partof] (neuraltubeform) -- (neuraltubedev); \draw[partof] (primneuraltube) -- (neuraltubeform);
\draw[partof] (neuraltubeclosure) -- (primneuraltube);

\draw[reg] (regcellrespinsulin) -- (cellrespinsulin); \draw[reg] (regrespstim) -- (respstim);
\draw[reg] (regrespstress) -- (respstress); \draw[reg] (regcellrespstress) -- (cellrespstress);
\draw[reg] (regrespER) -- (respER); \draw[reg] (regsigtrans) -- (sigtrans);
\draw[reg] (regintrasig) -- (intrasig); \draw[reg] (regintrinsic) -- (intrinsicapop);
\draw[reg] (regERintrinsic) -- (intrinsicER); \draw[reg] (reginsr) -- (insrsp);
\draw[reg] (regbio) -- (bp); \draw[reg] (regcellproc) -- (cellproc);
\draw[reg] (regcellcomm) -- (cellcomm); \draw[reg] (regcelldeath) -- (celldeath);
\draw[reg] (regpcd) -- (pcd); \draw[reg] (regapop) -- (apoptotic);
\draw[reg] (regapopsig) -- (apopsigpath); \draw[reg] (regmitoorg) -- (mitoorg);
\draw[reg] (regreleasecytc) -- (releasecytc); \draw[reg] (regsignaling) -- (signaling);
\draw[reg] (regcellcomporg) -- (cellcomporg); \draw[reg] (regorgorg) -- (orgorg);
\draw[reg] (regsynorg) -- (synapseorg); \draw[reg] (regmitofusion) -- (mitofusion);
\draw[reg] (regpostsyn) -- (postsynorg); \draw[reg] (regcellmat) -- (cellmaturation);
\draw[reg] (regasm) .. controls (5130,360) and (5300,215) .. (asm); \draw[reg] (regcellprojorg) -- (cellprojorg);
\draw[reg] (regpmbcporg) -- (pmbcporg); \draw[reg] (regneuronprojdev) -- (neuronprojdev);
\draw[reg] (regdendspinemorph) -- (dendspinemorph); \draw[reg] (regdevproc) -- (devproc);
\draw[reg] (regmop) -- (mop); \draw[reg] (regmod) -- (mod);
\draw[reg] (regcelldiff) -- (celldiff); \draw[reg] (regcelldev) -- (celldev);
\draw[reg] (regneurondiff) -- (neurondiff); \draw[reg] (regcellmorph) -- (cellmorph);
\draw[reg] (regcellmorphdiff) -- (cellmorphdiff); \draw[reg] (regneuronmat) -- (neuronmat);
\draw[reg] (regdendritedev) -- (dendritedev); \draw[reg] (regdendritemorph) -- (dendritemorph);
\draw[reg] (regnsdev) -- (nsdev); \draw[reg] (regneurogenesis) .. controls (5790,500) .. (neurogenesis);
\draw[reg] (regdendspinedev) -- (dendspinedev);

\draw[negreg] (negregrespstim) .. controls (2770,300) .. (respstim); \draw[negreg] (negregrespER) -- (respER);
\draw[negreg] (negregsignaling) .. controls (3120,380) .. (signaling); \draw[negreg] (negregsigtrans) -- (sigtrans);
\draw[negreg] (negregintrasig) .. controls (2950,470) .. (intrasig); \draw[negreg] (negregintrinsic) .. controls (2915,680) .. (intrinsicapop);
\draw[negreg] (negregERintrinsic) -- (intrinsicER); \draw[negreg] (negregbio) -- (bp);
\draw[negreg] (negregcellproc) .. controls (3580,310) .. (cellproc); \draw[negreg] (negregcellcomm) .. controls (3330,310) .. (cellcomm);
\draw[negreg] (negregcelldeath) -- (celldeath); \draw[negreg] (negregpcd) -- (pcd);
\draw[negreg] (negregapop) -- (apoptotic); \draw[negreg] (negregcellcomporg) -- (cellcomporg);
\draw[negreg] (negregorgorg) -- (orgorg); \draw[negreg] (negregapopsig) .. controls (3320,560) .. (apopsigpath);
\draw[negreg] (negregmitoorg) -- (mitoorg); \draw[negreg] (negregreleasecytc) -- (releasecytc);

\draw[posreg] (posregcellrespinsulin) .. controls (2380,860) .. (cellrespinsulin);
\draw[posreg] (posregrespstim) .. controls (2965,230) .. (respstim); \draw[posreg] (posreginsr) -- (insrsp);
\draw[posreg] (posregbio) -- (bp); \draw[posreg] (posregcellproc) -- (cellproc);
\draw[posreg] (posregsignaling) -- (signaling); \draw[posreg] (posregsigtrans) .. controls (3760,400) and (3500,360) .. (sigtrans);
\draw[posreg] (posregcellcomm) -- (cellcomm); \draw[posreg] (posregcellcomporg) -- (cellcomporg);
\draw[posreg] (posregorgorg) .. controls (3935,460) .. (orgorg); \draw[posreg] (posregmitoorg) -- (mitoorg);
\draw[posreg] (posregmitofusion) -- (mitofusion); \draw[posreg] (posregcellmat) .. controls (4900,540) .. (cellmaturation);
\draw[posreg] (posregcellprojorg) .. controls (4640,620) .. (cellprojorg); \draw[posreg] (posregneuronprojdev) -- (neuronprojdev);
\draw[posreg] (posregdendspinemorph) -- (dendspinemorph); \draw[posreg] (posregmop) .. controls (5790,260) and (5790,180) .. (mop);
\draw[posreg] (posregdevproc) .. controls (5470,200) .. (devproc); \draw[posreg] (posregcelldiff) .. controls (5360,440) .. (celldiff);
\draw[posreg] (posregcelldev) .. controls (5500,480) .. (celldev); \draw[posreg] (posregcellmorphdiff) -- (cellmorphdiff);
\draw[posreg] (posregneuronmat) .. controls (5205,860) .. (neuronmat); \draw[posreg] (posregdendritedev) -- (dendritedev);
\draw[posreg] (posregdendritemorph) .. controls (5225,990) .. (dendritemorph); \draw[posreg] (posregnsdev) .. controls (5905,400) .. (nsdev);
\draw[posreg] (posregneurogenesis) -- (neurogenesis); \draw[posreg] (posregdendspinedev) -- (dendspinedev);
\end{pgfonlayer}
\end{tikzpicture}
\end{document}
